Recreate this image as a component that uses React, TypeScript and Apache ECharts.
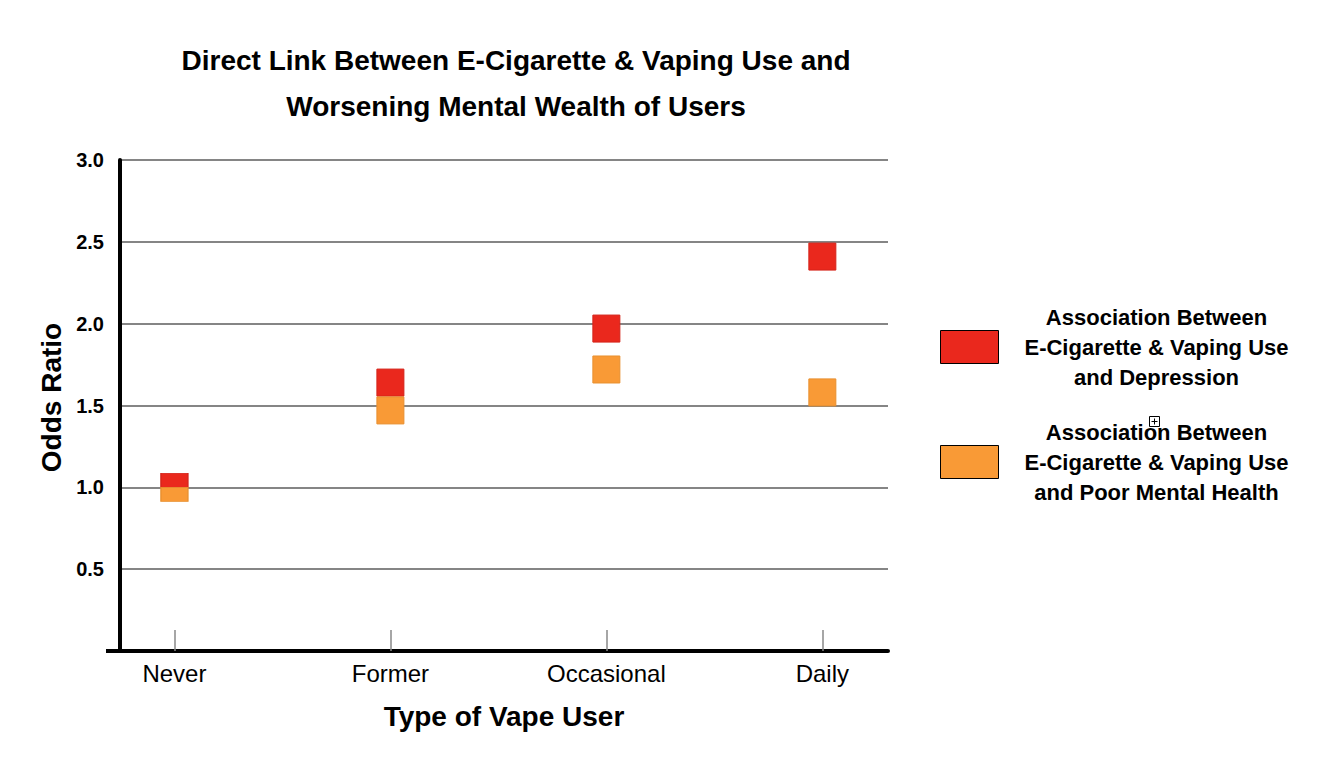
import React, { useEffect, useRef } from "react";
import * as echarts from "echarts";

const categories = ["Never", "Former", "Occasional", "Daily"];
const depressionValues = [1.0, 1.64, 1.97, 2.41];
const poorMentalHealthValues = [1.0, 1.47, 1.72, 1.58];
const yTicks = [0.5, 1.0, 1.5, 2.0, 2.5, 3.0];
const seriesNames = [
  "Association Between\nE-Cigarette & Vaping Use\nand Depression",
  "Association Between\nE-Cigarette & Vaping Use\nand Poor Mental Health",
];
const titleLines = [
  "Direct Link Between E-Cigarette & Vaping Use and",
  "Worsening Mental Wealth of Users",
];

const FONT = "'Liberation Sans', Arial, Helvetica, sans-serif";
const RED = "#EA281D";
const ORANGE = "#F99A36";

export default function App() {
  const ref = useRef<HTMLDivElement>(null);
  useEffect(() => {
    if (!ref.current) return;
    const chart = echarts.init(ref.current, null, { renderer: "svg" });
    const idx = categories.map((_, i) => i);
    const makeData = (vals: number[], offsetSign: number) =>
      vals.map((v, i) =>
        i === 0
          ? { value: [i, v], symbolSize: [27, 14], symbolOffset: [0, 7 * offsetSign] }
          : { value: [i, v] }
      );
    chart.setOption({
      animation: false,
      backgroundColor: "#ffffff",
      textStyle: { fontFamily: FONT },
      title: {
        text: titleLines.join("\n"),
        left: 516,
        top: 37,
        padding: 0,
        textAlign: "center",
        textStyle: {
          fontFamily: FONT,
          fontSize: 28,
          fontWeight: "bold",
          color: "#000",
          lineHeight: 46,
        },
      },
      grid: { left: 120, top: 160, right: 431, bottom: 109, containLabel: false },
      xAxis: {
        type: "value",
        min: -0.252,
        max: 3.304,
        name: "Type of Vape User",
        nameLocation: "middle",
        nameGap: 51,
        nameTextStyle: { fontFamily: FONT, fontSize: 28, fontWeight: "bold", color: "#000" },
        axisLine: { show: true, onZero: false, lineStyle: { color: "#000", width: 4 } },
        axisTick: {
          show: true,
          inside: true,
          length: 21,
          customValues: idx,
          lineStyle: { color: "#888", width: 1.5 },
        },
        axisLabel: {
          customValues: idx,
          formatter: (v: number) => categories[Math.round(v)] ?? "",
          margin: 10,
          fontFamily: FONT,
          fontSize: 24,
          color: "#000",
        },
        splitLine: { show: false },
      },
      yAxis: {
        type: "value",
        min: 0,
        max: 3,
        interval: 0.5,
        name: "Odds Ratio",
        nameLocation: "middle",
        nameGap: 50,
        nameTextStyle: {
          fontFamily: FONT,
          fontSize: 28,
          fontWeight: "bold",
          color: "#000",
          padding: [0, 0, 0, 16],
        },
        axisLine: { show: true, onZero: false, lineStyle: { color: "#000", width: 4 } },
        axisTick: { show: false },
        axisLabel: {
          formatter: (v: number) => (yTicks.some((t) => Math.abs(t - v) < 1e-9) ? v.toFixed(1) : ""),
          margin: 16,
          fontFamily: FONT,
          fontSize: 20,
          fontWeight: "bold",
          color: "#000",
        },
        splitLine: { show: true, lineStyle: { color: "#858585", width: 2 } },
      },
      legend: {
        orient: "vertical",
        left: 940,
        top: 306,
        padding: 0,
        itemWidth: 58,
        itemHeight: 33,
        itemGap: 33,
        icon: "rect",
        data: seriesNames.map((n, i) => ({
          name: n,
          itemStyle: { color: i === 0 ? RED : ORANGE, borderColor: "#000", borderWidth: 1 },
        })),
        formatter: (name: string) => `{a|${name}}`,
        textStyle: {
          rich: {
            a: {
              width: 306,
              align: "center",
              fontFamily: FONT,
              fontSize: 22,
              fontWeight: "bold",
              lineHeight: 30,
              color: "#000",
            },
          },
        },
      },
      series: [
        {
          name: seriesNames[0],
          type: "scatter",
          symbol: "rect",
          symbolSize: 27,
          itemStyle: { color: RED, borderColor: "#D4241A", borderWidth: 1, opacity: 1 },
          data: makeData(depressionValues, -1),
          z: 2,
        },
        {
          name: seriesNames[1],
          type: "scatter",
          symbol: "rect",
          symbolSize: 27,
          itemStyle: { color: ORANGE, borderColor: "#E89030", borderWidth: 1, opacity: 1 },
          data: makeData(poorMentalHealthValues, 1),
          z: 3,
        },
      ],
      graphic: [
        {
          type: "line",
          shape: { x1: 106, y1: 651, x2: 121, y2: 651 },
          style: { stroke: "#000", lineWidth: 4 },
          z: 10,
        },
        {
          type: "group",
          x: 1149,
          y: 416,
          children: [
            { type: "rect", shape: { x: 0.5, y: 0.5, width: 10, height: 10 }, style: { fill: "#fff", stroke: "#000", lineWidth: 1 } },
            { type: "line", shape: { x1: 5.5, y1: 2.5, x2: 5.5, y2: 8.5 }, style: { stroke: "#000", lineWidth: 1 } },
            { type: "line", shape: { x1: 2.5, y1: 5.5, x2: 8.5, y2: 5.5 }, style: { stroke: "#000", lineWidth: 1 } },
          ],
        },
      ],
    });
    return () => chart.dispose();
  }, []);
  return <div ref={ref} style={{ width: 1319, height: 760, position: "absolute", left: 0, top: 0 }} />;
}
